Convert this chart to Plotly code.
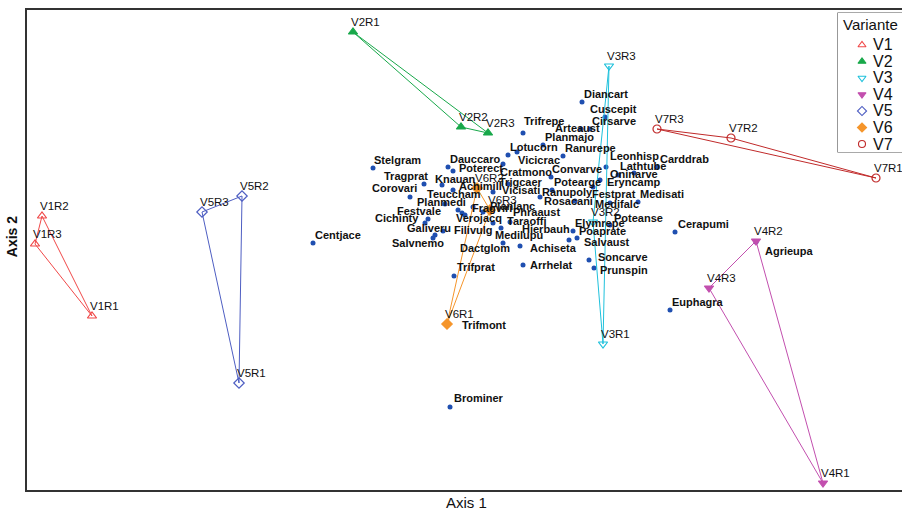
import plotly.graph_objects as go

# ---- Species scores on the first two ordination axes ----
species = [
    "Diancart", "Cuscepit", "Trifrepe", "Arteaust", "Cirsarve", "Planmajo",
    "Lotucorn", "Ranurepe", "Leonhisp", "Carddrab", "Lathtube", "Stelgram",
    "Dauccaro", "Vicicrac", "Cratmono", "Convarve", "Oninarve", "Eryncamp",
    "Festprat", "Potearge", "Ranupoly", "Rosacani", "Medisati", "Medifalc",
    "Poteanse", "Elymrepe", "Poaprate", "Salvaust", "Soncarve", "Prunspin",
    "Cerapumi", "Euphagra", "Agrieupa", "Hierbauh", "Phraaust", "Taraoffi",
    "Verojacq", "Fragviri", "Planlanc", "Vicisati", "Trigcaer", "Knauan",
    "Tragprat", "Achimill", "Poterect", "Corovari", "Teuccham", "Planmedi",
    "Festvale", "Cichinty", "Galiveru", "Filivulg", "Salvnemo", "Medilupu",
    "Dactglom", "Achiseta", "Arrhelat", "Trifprat", "Trifmont", "Brominer",
    "Centjace",
]
species_axis1 = [
    5.55, 5.78, 4.96, 5.54, 5.63, 5.16,
    4.81, 5.36, 5.79, 6.30, 6.07, 3.46,
    4.21, 4.76, 4.90, 5.24, 5.91, 5.73,
    5.66, 5.25, 5.13, 5.48, 6.11, 5.83,
    5.83, 5.46, 5.50, 5.42, 5.62, 5.67,
    6.48, 6.43, 7.29, 4.66, 4.56, 4.83,
    4.35, 4.38, 4.46, 4.66, 4.81, 4.15,
    3.97, 4.26, 4.26, 3.83, 4.31, 4.18,
    4.01, 3.98, 4.08, 4.16, 4.06, 4.74,
    4.76, 4.93, 4.96, 4.27, 4.20, 4.23,
    2.86,
]
species_axis2 = [
    3.88, 3.73, 3.57, 3.61, 3.61, 3.45,
    3.35, 3.34, 3.23, 3.23, 3.17, 3.22,
    3.23, 3.26, 3.38, 3.13, 3.15, 3.10,
    3.03, 3.00, 2.93, 2.89, 2.88, 2.87,
    2.65, 2.59, 2.52, 2.50, 2.30, 2.22,
    2.58, 1.80, 2.48, 2.67, 2.78, 2.68,
    2.77, 2.75, 2.83, 2.98, 3.06, 3.05,
    3.06, 3.00, 3.19, 2.93, 2.80, 2.86,
    2.71, 2.67, 2.55, 2.59, 2.52, 2.62,
    2.47, 2.44, 2.25, 2.14, 1.66, 0.83,
    2.47,
]

# ---- Plot (variant x replicate) scores ----
variants = ["V1", "V2", "V3", "V4", "V5", "V6", "V7"]
replicates = ["R1", "R2", "R3"]
variant_axis1 = {
    "V1": [0.65, 0.15, 0.08],
    "V2": [3.26, 4.34, 4.61],
    "V3": [5.76, 5.66, 5.82],
    "V4": [7.96, 7.29, 6.82],
    "V5": [2.12, 2.15, 1.75],
    "V6": [4.20, 4.50, 4.63],
    "V7": [8.49, 7.04, 6.30],
}
variant_axis2 = {
    "V1": [1.74, 2.74, 2.46],
    "V2": [4.58, 3.63, 3.57],
    "V3": [1.46, 2.68, 4.24],
    "V4": [0.07, 2.49, 2.02],
    "V5": [1.07, 2.94, 2.78],
    "V6": [1.66, 3.02, 2.80],
    "V7": [3.12, 3.52, 3.61],
}
legend_title = "Variante"

# ---- Styling ----
variant_style = {
    "V1": dict(color="#f04848", symbol="triangle-up-open"),
    "V2": dict(color="#18a84a", symbol="triangle-up"),
    "V3": dict(color="#1fc1dc", symbol="triangle-down-open"),
    "V4": dict(color="#c24fae", symbol="triangle-down"),
    "V5": dict(color="#4e5ec2", symbol="diamond-open"),
    "V6": dict(color="#f5952b", symbol="diamond"),
    "V7": dict(color="#c02a2a", symbol="circle-open"),
}

# pixel nudges for species labels (dx right, dy up), default sits above-right of the dot
label_nudge = {
    "Diancart": (0, 8), "Cuscepit": (-17, 8), "Trifrepe": (-1, 12),
    "Arteaust": (-28, 1), "Cirsarve": (0, 8), "Planmajo": (0, 8),
    "Lotucorn": (0, 8), "Ranurepe": (0, 8), "Leonhisp": (2, 11),
    "Carddrab": (1, 8), "Lathtube": (-16, 7), "Stelgram": (-1, 8),
    "Dauccaro": (0, 8), "Vicicrac": (13, 4), "Cratmono": (-19, -20),
    "Convarve": (-1, 8), "Oninarve": (-10, 1), "Eryncamp": (5, -2),
    "Festprat": (-3, -7), "Potearge": (0, 8), "Ranupoly": (0, 5),
    "Rosacani": (-33, 0), "Medisati": (0, 8), "Medifalc": (-17, -1),
    "Poteanse": (2, 7), "Elymrepe": (0, 8), "Poaprate": (0, 7),
    "Salvaust": (13, -2), "Soncarve": (7, 3), "Prunspin": (4, -2),
    "Cerapumi": (1, 8), "Euphagra": (0, 8), "Agrieupa": (7, -9),
    "Hierbauh": (27, -6), "Phraaust": (28, 0), "Taraoffi": (-5, 1),
    "Verojacq": (-8, -5), "Fragviri": (5, 7), "Planlanc": (15, 1),
    "Vicisati": (7, 2), "Trigcaer": (-11, 2), "Knauan": (-9, 6),
    "Tragprat": (-42, 8), "Achimill": (4, 4), "Poterect": (4, 3),
    "Corovari": (-40, 9), "Teuccham": (-33, 16), "Planmedi": (-30, 2),
    "Festvale": (-33, 8), "Cichinty": (-52, 5), "Galiveru": (-30, 7),
    "Filivulg": (9, 1), "Salvnemo": (-43, -5), "Medilupu": (-8, -7),
    "Dactglom": (-45, -5), "Achiseta": (8, -2), "Arrhelat": (5, 0),
    "Trifprat": (1, 9), "Trifmont": (13, -1), "Brominer": (2, 9),
    "Centjace": (0, 8),
}

FONT = "Liberation Sans, Arial, sans-serif"

fig = go.Figure()

# species points
fig.add_trace(go.Scatter(
    x=species_axis1, y=species_axis2, mode="markers",
    marker=dict(color="#1f4fb0", size=5),
    hoverinfo="text", text=species,
))

annotations = []
for name, ax1, ax2 in zip(species, species_axis1, species_axis2):
    dx, dy = label_nudge.get(name, (0, 8))
    annotations.append(dict(
        x=ax1, y=ax2, xref="x", yref="y", text="<b>" + name + "</b>",
        showarrow=False, xanchor="left", yanchor="middle",
        xshift=dx, yshift=dy,
        font=dict(family=FONT, size=11, color="#111111"),
    ))

# variant replicate triangles, markers and labels
for v in variants:
    xs = variant_axis1[v]
    ys = variant_axis2[v]
    st = variant_style[v]
    fig.add_trace(go.Scatter(
        x=xs + [xs[0]], y=ys + [ys[0]], mode="lines",
        line=dict(color=st["color"], width=1), hoverinfo="skip",
    ))
    fig.add_trace(go.Scatter(
        x=xs, y=ys, mode="markers", name=v,
        marker=dict(color=st["color"], symbol=st["symbol"], size=8,
                    line=dict(color=st["color"], width=1.2)),
        text=[v + r for r in replicates], hoverinfo="text",
    ))
    for r, ax1, ax2 in zip(replicates, xs, ys):
        annotations.append(dict(
            x=ax1, y=ax2, xref="x", yref="y", text=v + r,
            showarrow=False, xanchor="left", yanchor="middle",
            xshift=-4, yshift=10,
            font=dict(family=FONT, size=11.5, color="#111111"),
        ))

# key panel: its own small axes (units = pixels from the box's top-left corner)
key_rows = list(range(len(variants)))
fig.add_trace(go.Scatter(
    x=[24] * len(variants), y=[32 + 16.5 * i for i in key_rows],
    mode="markers", xaxis="x2", yaxis="y2", hoverinfo="skip",
    marker=dict(
        color=[variant_style[v]["color"] for v in variants],
        symbol=[variant_style[v]["symbol"] for v in variants],
        size=7,
        line=dict(color=[variant_style[v]["color"] for v in variants], width=1.1),
    ),
))
annotations.append(dict(
    x=3, y=12, xref="x2", yref="y2", text=legend_title, showarrow=False,
    xanchor="left", yanchor="middle",
    font=dict(family=FONT, size=15, color="#111111"),
))
for i, v in zip(key_rows, variants):
    annotations.append(dict(
        x=33, y=32 + 16.5 * i, xref="x2", yref="y2", text=v, showarrow=False,
        xanchor="left", yanchor="middle",
        font=dict(family=FONT, size=16, color="#111111"),
    ))

# axis titles
annotations.append(dict(
    x=0.502, y=-0.027, xref="paper", yref="paper", text="Axis 1",
    showarrow=False, xanchor="center", yanchor="middle",
    font=dict(family=FONT, size=15, color="#111111"),
))
annotations.append(dict(
    x=-0.017, y=0.527, xref="paper", yref="paper", text="<b>Axis 2</b>",
    showarrow=False, xanchor="center", yanchor="middle", textangle=-90,
    font=dict(family=FONT, size=14, color="#111111"),
))

key_x0 = (838 - 27) / 875
key_y0 = (490 - 152) / 480
key_y1 = (490 - 13) / 480

hidden = dict(showgrid=False, zeroline=False, showticklabels=False,
              ticks="", showline=False, fixedrange=True)

fig.update_layout(
    width=902, height=511,
    margin=dict(l=27, r=0, t=10, b=21),
    paper_bgcolor="white", plot_bgcolor="white",
    font=dict(family=FONT, color="#111111"),
    showlegend=False,
    annotations=annotations,
    shapes=[dict(type="rect", xref="paper", yref="paper",
                 x0=key_x0, x1=1.02, y0=key_y0, y1=key_y1,
                 line=dict(color="#555555", width=1.2),
                 fillcolor="white", layer="below")],
    xaxis=dict(range=[0, 8.75], showgrid=False, zeroline=False,
               showticklabels=False, ticks="", showline=True,
               linecolor="#333333", linewidth=2, mirror=True, fixedrange=True),
    yaxis=dict(range=[0, 4.80], showgrid=False, zeroline=False,
               showticklabels=False, ticks="", showline=True,
               linecolor="#333333", linewidth=2, mirror=False, fixedrange=True),
    xaxis2=dict(domain=[key_x0, 1], range=[0, 902 - 838], anchor="y2", **hidden),
    yaxis2=dict(domain=[key_y0, key_y1], range=[152 - 13, 0], anchor="x2", **hidden),
)

fig.write_html("out.html")
